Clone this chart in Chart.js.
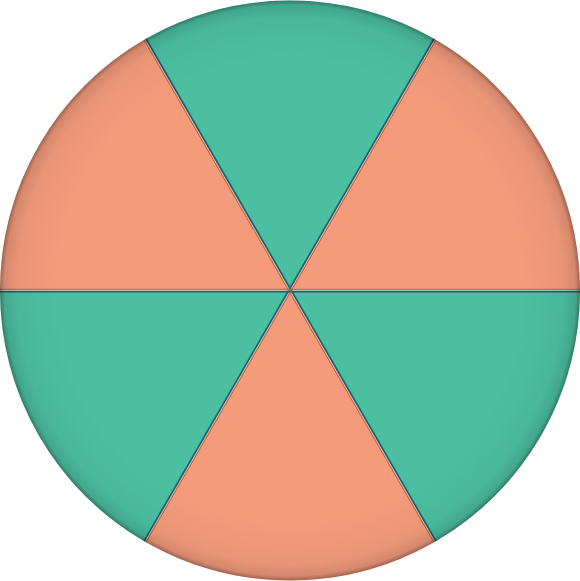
<!DOCTYPE html>
<html><head><meta charset="utf-8">
<script src="https://cdn.jsdelivr.net/npm/chart.js@4/dist/chart.umd.min.js"></script>
<style>html,body{margin:0;padding:0;background:#fff}#wrap{width:580px;height:581px}</style>
</head><body><div id="wrap"><canvas id="c"></canvas></div>
<script>
const categories = ['A','B','C','D','E','F'];
const values = [1,1,1,1,1,1];
const fillColors = ['#4cbfa0','#f49b7c','#4cbfa0','#f49b7c','#4cbfa0','#f49b7c'];
const edgeColors = ['#1d5e78','#c4623f','#1d5e78','#c4623f','#1d5e78','#c4623f'];

const shade = {
  id:'shade',
  afterDatasetsDraw(chart){
    const meta = chart.getDatasetMeta(0);
    const ctx = chart.ctx;
    ctx.save();
    // slice edges: orange line on salmon side, blue line on teal side
    meta.data.forEach((arc,i)=>{
      const p = arc.getProps(['x','y','startAngle','endAngle','outerRadius'],true);
      const inset = 1.2;
      [[p.startAngle,1],[p.endAngle,-1]].forEach(([a,s])=>{
        const nx = -Math.sin(a)*s, ny = Math.cos(a)*s;
        ctx.beginPath();
        ctx.moveTo(p.x+nx*inset, p.y+ny*inset);
        ctx.lineTo(p.x+Math.cos(a)*p.outerRadius+nx*inset, p.y+Math.sin(a)*p.outerRadius+ny*inset);
        ctx.strokeStyle = edgeColors[i];
        ctx.lineWidth = i%2===0 ? 1.6 : 1.0;
        ctx.stroke();
      });
    });
    const {x,y,outerRadius:r} = meta.data[0].getProps(['x','y','outerRadius'],true);
    const g = ctx.createRadialGradient(x,y,r*0.8,x,y,r);
    g.addColorStop(0,'rgba(0,0,0,0)');
    g.addColorStop(0.7,'rgba(0,0,0,0.04)');
    g.addColorStop(0.92,'rgba(0,0,0,0.12)');
    g.addColorStop(1,'rgba(0,0,0,0.35)');
    ctx.beginPath(); ctx.arc(x,y,r,0,Math.PI*2); ctx.fillStyle=g; ctx.fill();
    ctx.restore();
  }
};

new Chart(document.getElementById('c'),{
  type:'pie',
  data:{labels:categories,datasets:[{data:values,backgroundColor:fillColors,borderWidth:0}]},
  options:{responsive:true,maintainAspectRatio:false,animation:false,rotation:-30,
    layout:{padding:0},
    plugins:{legend:{display:false},tooltip:{enabled:false}}},
  plugins:[shade]
});
</script></body></html>
